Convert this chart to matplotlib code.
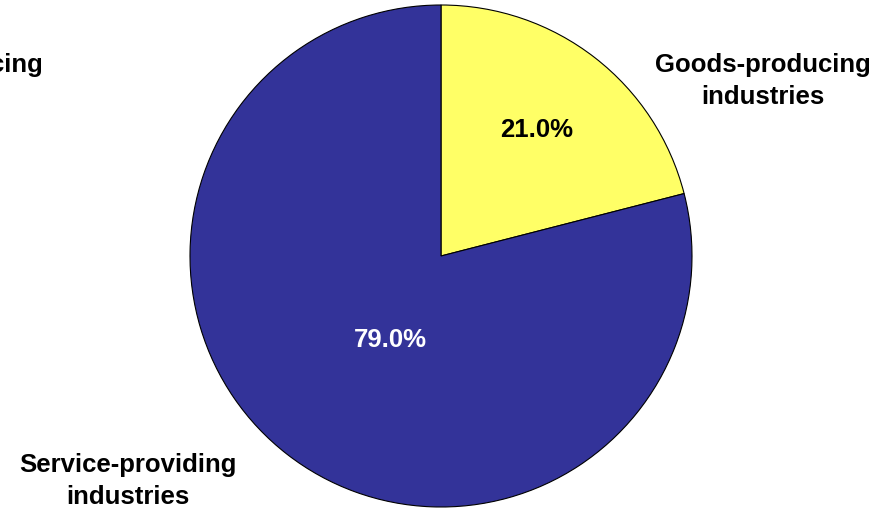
import matplotlib.pyplot as plt

labels = ['Goods-producing\nindustries', 'Service-providing\nindustries']
shares = [21.0, 79.0]
colors = ['#FFFF66', '#333399']

W, H = 895, 511
fig = plt.figure(figsize=(W / 100, H / 100), dpi=100)
ax = fig.add_axes([0, 0, 1, 1])

font = dict(family='Liberation Sans', weight='bold', fontsize=18.5)

ax.pie(shares, colors=colors, startangle=90, counterclock=False,
       center=(441, H - 256), radius=251, frame=True,
       wedgeprops={'edgecolor': 'black', 'linewidth': 0.8})
ax.set_xlim(0, W)
ax.set_ylim(0, H)
ax.set_aspect('equal')
ax.axis('off')

# percent labels
ax.text(537, H - 130, '%.1f%%' % shares[0], ha='center', va='center', color='black', **font)
ax.text(390, H - 340, '%.1f%%' % shares[1], ha='center', va='center', color='white', **font)

# category labels
ax.text(763, H - 81, labels[0], ha='center', va='center', linespacing=1.4, **font)
ax.text(128, H - 481, labels[1], ha='center', va='center', linespacing=1.4, **font)
# label of a neighbouring chart, cut off at the left edge as in the original
ax.text(43, H - 65, 'Goods-producing', ha='right', va='center', **font)

fig.savefig('out.png', dpi=100)
